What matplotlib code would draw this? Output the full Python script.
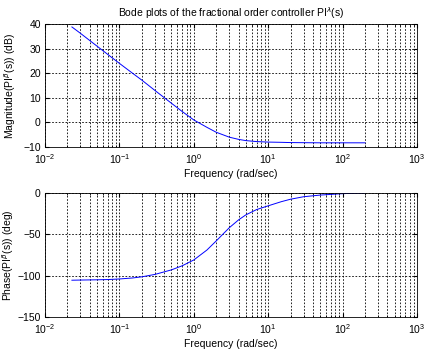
import matplotlib
matplotlib.use("Agg")
import matplotlib.pyplot as plt

plt.rcParams['font.family'] = ['Liberation Sans', 'DejaVu Sans']
plt.rcParams['font.size'] = 7.5
plt.rcParams['mathtext.fontset'] = 'custom'
plt.rcParams['mathtext.rm'] = 'Liberation Sans'

freq = [0.023, 0.03, 0.05, 0.07, 0.1, 0.15, 0.2, 0.3, 0.5, 0.7, 1.0, 1.5, 2.0,
        3.0, 4.0, 5.0, 7.0, 10.0, 15.0, 20.0, 30.0, 50.0, 100.0, 150.0, 200.0]
mag = [38.8, 36.2, 31.0, 27.6, 24.0, 20.0, 17.2, 13.0, 7.8, 4.4, 1.0, -2.0, -4.0,
       -6.0, -6.9, -7.4, -7.8, -8.0, -8.1, -8.2, -8.25, -8.3, -8.3, -8.3, -8.3]
phase = [-105.5, -105.3, -105.0, -104.7, -104.0, -102.8, -101.4, -98.5, -93.0, -88.0,
         -81.0, -69.0, -58.0, -42.0, -32.5, -26.5, -20.0, -15.5, -10.5, -7.5, -4.5,
         -2.5, -0.8, -0.2, 0.0]

fig = plt.figure(figsize=(4.25, 3.58), dpi=100)
ax1 = fig.add_axes([45/425, 1-147/358, 372/425, 123/358])
ax2 = fig.add_axes([45/425, 1-317/358, 372/425, 124/358])

ax1.semilogx(freq, mag, color='blue', lw=0.7)
ax1.set_xlim(1e-2, 1e3)
ax1.set_ylim(-10, 40)
ax1.set_yticks([-10, 0, 10, 20, 30, 40])
ax1.set_title('Bode plots of the fractional order controller PI$^{\\lambda}$(s)', fontsize=7.5, pad=5)
ax1.set_ylabel('Magnitude(PI$^{\\beta}$(s)) (dB)')
ax1.yaxis.set_label_coords(-0.072, 0.5)
ax1.set_xlabel('Frequency (rad/sec)', labelpad=2)

ax2.semilogx(freq, phase, color='blue', lw=0.7)
ax2.set_xlim(1e-2, 1e3)
ax2.set_ylim(-150, 0)
ax2.set_yticks([-150, -100, -50, 0])
ax2.set_ylabel('Phase(PI$^{\\beta}$(s)) (deg)')
ax2.yaxis.set_label_coords(-0.078, 0.5)
ax2.set_xlabel('Frequency (rad/sec)', labelpad=2)

for ax in (ax1, ax2):
    ax.grid(True, which='both', color='black', linestyle=(0, (2, 2)), lw=0.6)
    ax.tick_params(which='both', direction='in', top=True, right=True)
    ax.tick_params(axis='x', pad=4)
    ax.tick_params(axis='y', pad=3)
    ax.tick_params(which='major', length=3)
    ax.tick_params(which='minor', length=1.5)
    for s in ax.spines.values():
        s.set_linewidth(0.6)

fig.savefig('out.png', dpi=100)
